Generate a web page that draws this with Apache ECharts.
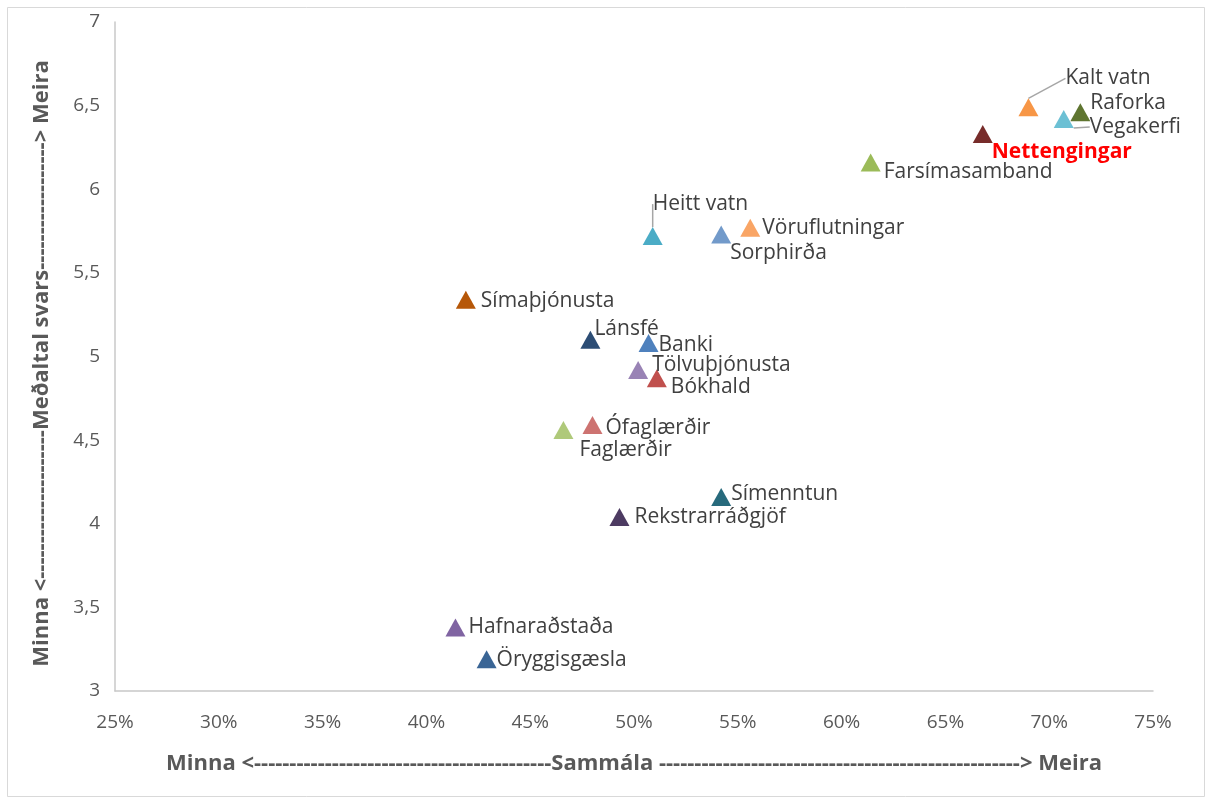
<!DOCTYPE html>
<html>
<head>
<meta charset="utf-8">
<script src="https://cdn.jsdelivr.net/npm/echarts@6/dist/echarts.min.js"></script>
<style>
  html, body { margin: 0; padding: 0; background: #ffffff; }
  #chart { width: 1213px; height: 805px; }
</style>
</head>
<body>
<div id="chart"></div>
<script>
// ---- Data ----
const names = ['Kalt vatn', 'Raforka', 'Vegakerfi', 'Nettengingar', 'Farsímasamband',
  'Vöruflutningar', 'Sorphirða', 'Heitt vatn', 'Símaþjónusta', 'Lánsfé', 'Banki',
  'Tölvuþjónusta', 'Bókhald', 'Ófaglærðir', 'Faglærðir', 'Símenntun',
  'Rekstrarráðgjöf', 'Hafnaraðstaða', 'Öryggisgæsla'];
// Sammála (%)
const agreePct = [69.0, 71.5, 70.7, 66.8, 61.4, 55.6, 54.2, 50.9, 41.9, 47.9, 50.7,
  50.2, 51.1, 48.0, 46.6, 54.2, 49.3, 41.4, 42.9];
// Meðaltal svars
const meanAnswer = [6.49, 6.46, 6.42, 6.33, 6.16, 5.77, 5.73, 5.72, 5.34, 5.10, 5.08,
  4.92, 4.87, 4.59, 4.56, 4.16, 4.04, 3.38, 3.19];
const xTicks = [25, 30, 35, 40, 45, 50, 55, 60, 65, 70, 75];
const yTicks = [3, 3.5, 4, 4.5, 5, 5.5, 6, 6.5, 7];

// ---- Styles ----
const colors = ['#F79646', '#5F7530', '#6CC0D4', '#772C2A', '#9BBB59',
  '#F9A565', '#729ACA', '#4BACC6', '#B65708', '#2C4D75', '#4F81BD',
  '#9983B5', '#C0504D', '#CD7371', '#AFC97A', '#276A7C',
  '#4D3B62', '#8064A2', '#3A6595'];
const labelShift = {
  'Kalt vatn': [25, -29], 'Raforka': [-2, -9], 'Vegakerfi': [14, 8],
  'Nettengingar': [-3, 18], 'Farsímasamband': [1, 10], 'Vöruflutningar': [0, 0],
  'Sorphirða': [-3, 19], 'Heitt vatn': [-12, -32], 'Símaþjónusta': [3, 1],
  'Lánsfé': [-8, -11], 'Banki': [-2, 2], 'Tölvuþjónusta': [2, -5],
  'Bókhald': [2, 9], 'Ófaglærðir': [1, 3], 'Faglærðir': [4, 20],
  'Símenntun': [-2, -3], 'Rekstrarráðgjöf': [3, 0], 'Hafnaraðstaða': [1, 0],
  'Öryggisgæsla': [-2, 1]
};
const leaderNames = ['Kalt vatn', 'Heitt vatn', 'Vegakerfi'];
const highlightName = 'Nettengingar';

const data = names.map((n, i) => {
  const item = {
    name: n,
    value: [agreePct[i], meanAnswer[i]],
    itemStyle: { color: colors[i], opacity: 1 }
  };
  if (leaderNames.indexOf(n) >= 0) {
    item.labelLine = { show: true };
  }
  if (n === highlightName) {
    item.label = { color: '#FF0000', fontWeight: 'bold' };
  }
  return item;
});

const xTitle = 'Minna <' + '-'.repeat(42) + 'Sammála ' + '-'.repeat(51) + '> Meira';
const yTitle = 'Minna <' + '-'.repeat(21) + 'Meðaltal svars' + '-'.repeat(18) + '> Meira';

const chart = echarts.init(document.getElementById('chart'), null, { renderer: 'canvas' });
chart.setOption({
  animation: false,
  backgroundColor: '#ffffff',
  graphic: [{
    type: 'rect',
    shape: { x: 7.5, y: 7.5, width: 1197, height: 789 },
    style: { fill: 'none', stroke: '#d9d9d9', lineWidth: 1 },
    silent: true
  }],
  grid: { left: 115, right: 60, top: 22, bottom: 114, containLabel: false },
  xAxis: {
    type: 'value',
    min: xTicks[0], max: xTicks[xTicks.length - 1], interval: 5,
    axisLine: { show: true, onZero: false, lineStyle: { color: '#c8c8c8', width: 1.5 } },
    axisTick: { show: false },
    splitLine: { show: false },
    axisLabel: {
      margin: 22, color: '#595959', fontFamily: 'Open Sans', fontSize: 19,
      formatter: v => v + '%'
    },
    name: xTitle,
    nameLocation: 'middle',
    nameGap: 62,
    nameTextStyle: { color: '#595959', fontFamily: 'Open Sans', fontWeight: 'bold', fontSize: 22 }
  },
  yAxis: {
    type: 'value',
    min: yTicks[0], max: yTicks[yTicks.length - 1], interval: 0.5,
    axisLine: { show: true, onZero: false, lineStyle: { color: '#c8c8c8', width: 1.5 } },
    axisTick: { show: false },
    splitLine: { show: false },
    axisLabel: {
      margin: 15, color: '#595959', fontFamily: 'Open Sans', fontSize: 19,
      formatter: v => String(v).replace('.', ',')
    },
    name: yTitle,
    nameLocation: 'middle',
    nameRotate: 90,
    nameGap: 62,
    nameTextStyle: {
      color: '#595959', fontFamily: 'Open Sans', fontWeight: 'bold', fontSize: 22,
      padding: [0, 14, 0, 0]
    }
  },
  series: [{
    type: 'scatter',
    symbol: 'triangle',
    symbolSize: [20, 18],
    data: data,
    label: {
      show: true,
      position: 'right',
      distance: 2,
      formatter: '{b}',
      color: '#404040',
      fontFamily: 'Open Sans',
      fontSize: 21
    },
    labelLine: {
      show: false,
      lineStyle: { color: '#a6a6a6', width: 1.5 }
    },
    labelLayout: function (params) {
      const s = labelShift[names[params.dataIndex]] || [0, 0];
      return { dx: s[0], dy: s[1] };
    },
    emphasis: { disabled: true }
  }]
});
</script>
</body>
</html>
